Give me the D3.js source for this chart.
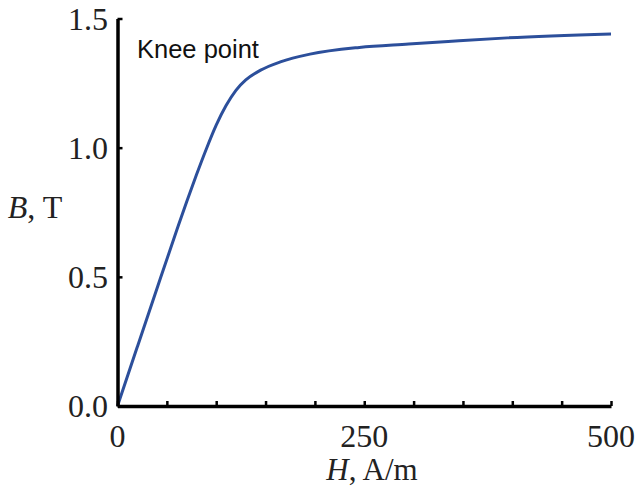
<!DOCTYPE html>
<html><head><meta charset="utf-8">
<script src="https://cdn.jsdelivr.net/npm/d3@7"></script>
<style>body{margin:0;background:#fff}svg{display:block}</style>
</head><body>
<script>
const H = [0, 20, 40, 60, 70, 80, 90, 100, 110, 120, 130, 145, 165, 195, 245, 295, 335, 395, 500];
const B = [0, 0.228, 0.455, 0.68, 0.79, 0.895, 0.995, 1.087, 1.163, 1.222, 1.262, 1.300, 1.332, 1.362, 1.388, 1.401, 1.411, 1.425, 1.440];
const xTicks = [0, 50, 100, 150, 200, 250, 300, 350, 400, 450, 500];
const xLabels = [0, 250, 500];
const yTicks = [0, 0.5, 1.0, 1.5];
const yLabels = ["0.0", "0.5", "1.0", "1.5"];
const annotation = "Knee point";

const W = 638, Ht = 494;
const svg = d3.select("body").append("svg").attr("width", W).attr("height", Ht);
const x = d3.scaleLinear().domain([0, 500]).range([117.5, 611]);
const y = d3.scaleLinear().domain([0, 1.5]).range([406, 18.5]);
const serif = "'Liberation Serif','Times New Roman',serif";

// curve
const data = H.map((h, i) => ({h, b: B[i]}));
svg.append("path").datum(data)
  .attr("fill", "none").attr("stroke", "#2c4f9b").attr("stroke-width", 3)
  .attr("stroke-linejoin", "round")
  .attr("d", d3.line().x(d => x(d.h)).y(d => y(d.b)).curve(d3.curveMonotoneX));

// x axis
const xa = svg.append("g").attr("transform", `translate(0,${y(0)})`)
  .call(d3.axisBottom(x).tickValues(xTicks).tickSizeInner(-5).tickSizeOuter(0).tickFormat(""));
xa.select(".domain").attr("stroke", "#000").attr("stroke-width", 3.5);
xa.selectAll(".tick line").attr("stroke", "#000").attr("stroke-width", 2.5);

// y axis
const ya = svg.append("g").attr("transform", `translate(${x(0)},0)`)
  .call(d3.axisLeft(y).tickValues(yTicks).tickSizeInner(-5).tickSizeOuter(0).tickFormat(""));
ya.select(".domain").attr("stroke", "#000").attr("stroke-width", 3.5);
ya.selectAll(".tick line").attr("stroke", "#000").attr("stroke-width", 2.5);

// labels
svg.selectAll(".xl").data(xLabels).join("text")
  .attr("x", d => x(d)).attr("y", 447).attr("text-anchor", "middle")
  .attr("font-family", serif).attr("font-size", 32).attr("fill", "#222").text(d => d);
svg.selectAll(".yl").data(yTicks).join("text")
  .attr("x", 108).attr("y", d => y(d) + 11).attr("text-anchor", "end")
  .attr("font-family", serif).attr("font-size", 32).attr("fill", "#222").text((d, i) => yLabels[i]);

// axis titles
const xt = svg.append("text").attr("x", 372).attr("y", 480).attr("text-anchor", "middle")
  .attr("font-family", serif).attr("font-size", 31).attr("fill", "#222");
xt.append("tspan").attr("font-style", "italic").text("H");
xt.append("tspan").text(", A/m");
const yt = svg.append("text").attr("x", 35).attr("y", 218).attr("text-anchor", "middle")
  .attr("font-family", serif).attr("font-size", 32).attr("fill", "#222");
yt.append("tspan").attr("font-style", "italic").text("B");
yt.append("tspan").text(", T");

svg.append("text").attr("x", 137).attr("y", 58)
  .attr("font-family", "'Liberation Sans',Arial,sans-serif").attr("font-size", 25.5).attr("fill", "#111")
  .text(annotation);
</script>
</body></html>
